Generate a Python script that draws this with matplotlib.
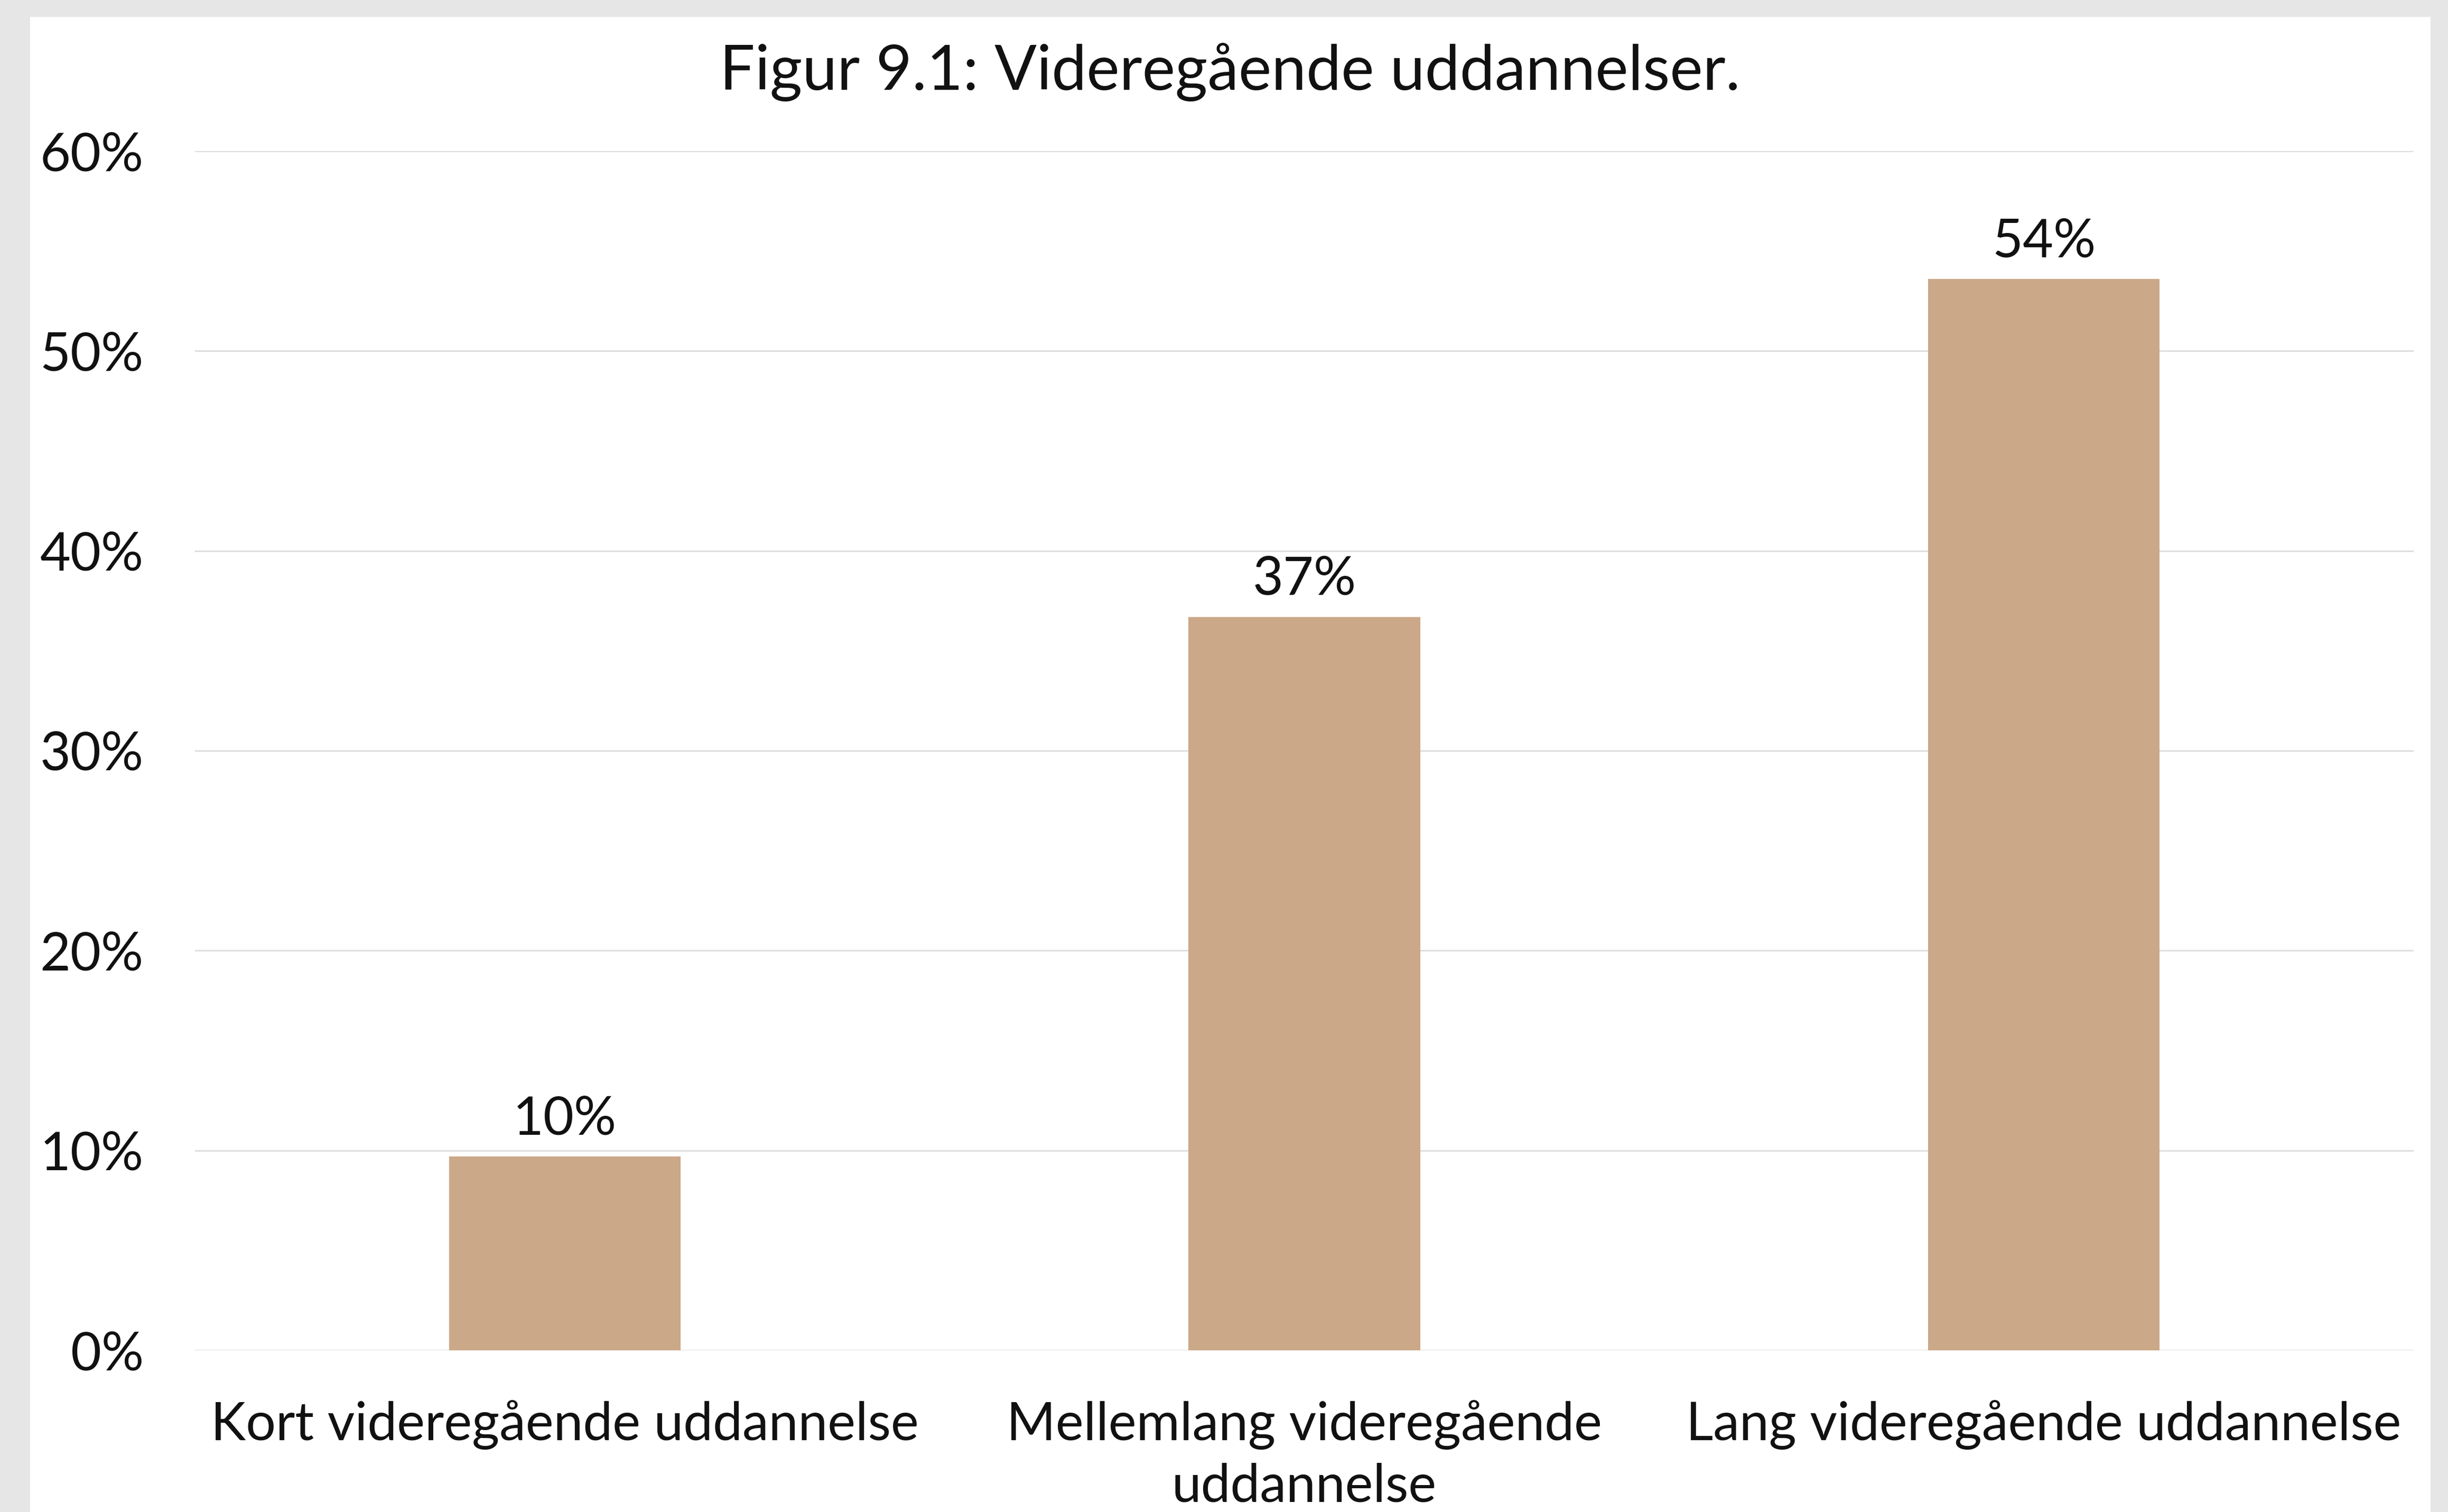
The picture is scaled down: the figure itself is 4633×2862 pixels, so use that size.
import matplotlib
matplotlib.use("Agg")
import matplotlib.pyplot as plt
from matplotlib.patches import Rectangle
from matplotlib.ticker import FuncFormatter

# Data
categories = ["Kort videregående uddannelse",
              "Mellemlang videregående\nuddannelse",
              "Lang videregående uddannelse"]
values = [0.097, 0.367, 0.536]
labels = ["10%", "37%", "54%"]
yticks = [0, 0.1, 0.2, 0.3, 0.4, 0.5, 0.6]

BAR_COLOR = "#cba888"
TEXT_COLOR = "#111111"
GRID_COLOR = "#d9d9d9"

plt.rcParams["font.family"] = ["Lato", "DejaVu Sans"]

W, H = 4633, 2862
fig = plt.figure(figsize=(W / 100, H / 100), dpi=100)
fig.set_facecolor("#e6e6e6")

# white panel inside the grey frame
fig.patches.append(Rectangle((57 / W, 0), (4600 - 57) / W, (H - 32) / H,
                             transform=fig.transFigure, facecolor="white",
                             edgecolor="none", zorder=-10))

ax = fig.add_axes([369 / W, 1 - 2556 / H, (4568 - 369) / W, (2556 - 286) / H])
ax.set_facecolor("none")

x = range(len(categories))
bars = ax.bar(x, values, width=0.313, color=BAR_COLOR, zorder=3)

for b, lab in zip(bars, labels):
    ax.annotate(lab, (b.get_x() + b.get_width() / 2, b.get_height()),
                xytext=(0, 30), textcoords="offset points",
                ha="center", va="baseline", fontsize=72, color=TEXT_COLOR)

ax.set_xlim(-0.5, 2.5)
ax.set_ylim(0, 0.6)
ax.set_yticks(yticks)
ax.yaxis.set_major_formatter(FuncFormatter(lambda v, p: f"{v * 100:.0f}%"))
ax.set_xticks(list(x))
ax.set_xticklabels(categories, linespacing=1.33)

ax.tick_params(axis="both", length=0, labelsize=72, colors=TEXT_COLOR)
ax.tick_params(axis="y", pad=70)
ax.tick_params(axis="x", pad=68)

for s in ax.spines.values():
    s.set_visible(False)
ax.grid(axis="y", color=GRID_COLOR, linewidth=1.8, zorder=0)
ax.set_axisbelow(True)

fig.text(2328 / W, 1 - 170 / H, "Figur 9.1: Videregående uddannelser.",
         ha="center", va="baseline", fontsize=85, color=TEXT_COLOR)

fig.savefig("out.png", dpi=100, facecolor=fig.get_facecolor())
